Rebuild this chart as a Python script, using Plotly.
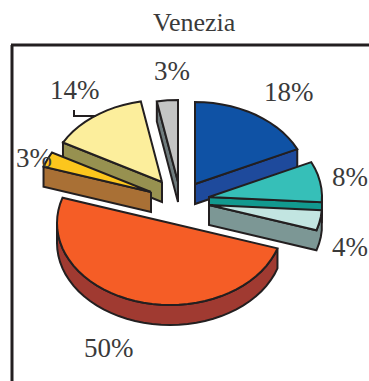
import math
import plotly.graph_objects as go

# Data
title = "Venezia"
categories = ["A", "B", "C", "D", "E", "F", "G"]
values = [18, 8, 4, 50, 3, 14, 3]
labels = ["18%", "8%", "4%", "50%", "3%", "14%", "3%"]

# Style
top_colors = ["#0f52a5", "#36bfb8", "#c2e5e1", "#f55d26", "#fcc61d", "#fcee9c", "#c4c4c4"]
side_colors = ["#1e4a9c", "#12998f", "#7c9795", "#a03a31", "#a97035", "#979150", "#6f7b7d"]
apexes = [(195, 184), (209, 197), (209, 205), (170, 223), (151, 192), (162, 182), (178, 182)]
label_pos = [(289, 92), (350, 177), (350, 247), (109, 348), (34, 158), (75, 90), (172, 71)]
draw_order = [6, 5, 4, 0, 1, 2, 3]
RX, RY, DEPTH = 113, 82, 20
EDGE = "#231f20"
TEXT = "#3a3a3a"
FONT = "Liberation Serif"
W, H = 369, 381

total = sum(values)
spans = []
a = 0.0
for v in values:
    spans.append((a, a + 360.0 * v / total))
    a += 360.0 * v / total


def outline(apex, start, end):
    n = max(2, int(round((end - start) / 4.5)))
    pts = [apex]
    for i in range(n + 1):
        t = math.radians(start + (end - start) * i / n)
        pts.append((apex[0] + RX * math.sin(t), apex[1] - RY * math.cos(t)))
    return pts


def poly(fig, pts, color):
    xs = [p[0] for p in pts] + [pts[0][0]]
    ys = [p[1] for p in pts] + [pts[0][1]]
    fig.add_trace(go.Scatter(x=xs, y=ys, mode="lines", fill="toself", fillcolor=color,
                             line=dict(color=EDGE, width=2, simplify=False),
                             hoverinfo="skip", showlegend=False))


fig = go.Figure()
for idx in draw_order:
    pts = outline(apexes[idx], *spans[idx])
    closed = pts + [pts[0]]
    # side faces: boundary edges running leftwards on screen face the viewer
    chains, cur = [], []
    for p, q in zip(closed[:-1], closed[1:]):
        if q[0] - p[0] < -1e-6:
            if not cur:
                cur = [p]
            cur.append(q)
        elif cur:
            chains.append(cur)
            cur = []
    if cur:
        chains.append(cur)
    for ch in chains:
        poly(fig, ch + [(x, y + DEPTH) for x, y in reversed(ch)], side_colors[idx])
    poly(fig, pts, top_colors[idx])

# Leader for the 14% label
fig.add_trace(go.Scatter(x=[74, 74, 96], y=[110, 116, 116], mode="lines",
                         line=dict(color=EDGE, width=2), hoverinfo="skip", showlegend=False))

annotations = [dict(x=194, y=22, text=title, showarrow=False, xref="x", yref="y",
                    font=dict(family=FONT, size=26, color=TEXT))]
for lab, (x, y) in zip(labels, label_pos):
    annotations.append(dict(x=x, y=y, text=lab, showarrow=False, xref="x", yref="y",
                            font=dict(family=FONT, size=27, color=TEXT)))

fig.update_layout(
    width=W, height=H, margin=dict(l=0, r=0, t=0, b=0),
    paper_bgcolor="white", plot_bgcolor="white", showlegend=False,
    xaxis=dict(range=[0, W], visible=False, fixedrange=True),
    yaxis=dict(range=[H, 0], visible=False, fixedrange=True),
    annotations=annotations,
    shapes=[dict(type="line", x0=11, x1=W + 5, y0=45, y1=45, line=dict(color=EDGE, width=3)),
            dict(type="line", x0=12, x1=12, y0=45, y1=H + 5, line=dict(color=EDGE, width=3))],
)
fig.write_html("out.html", config=dict(displayModeBar=False),
               post_script="document.body.style.margin='0';document.documentElement.style.overflow='hidden';")
